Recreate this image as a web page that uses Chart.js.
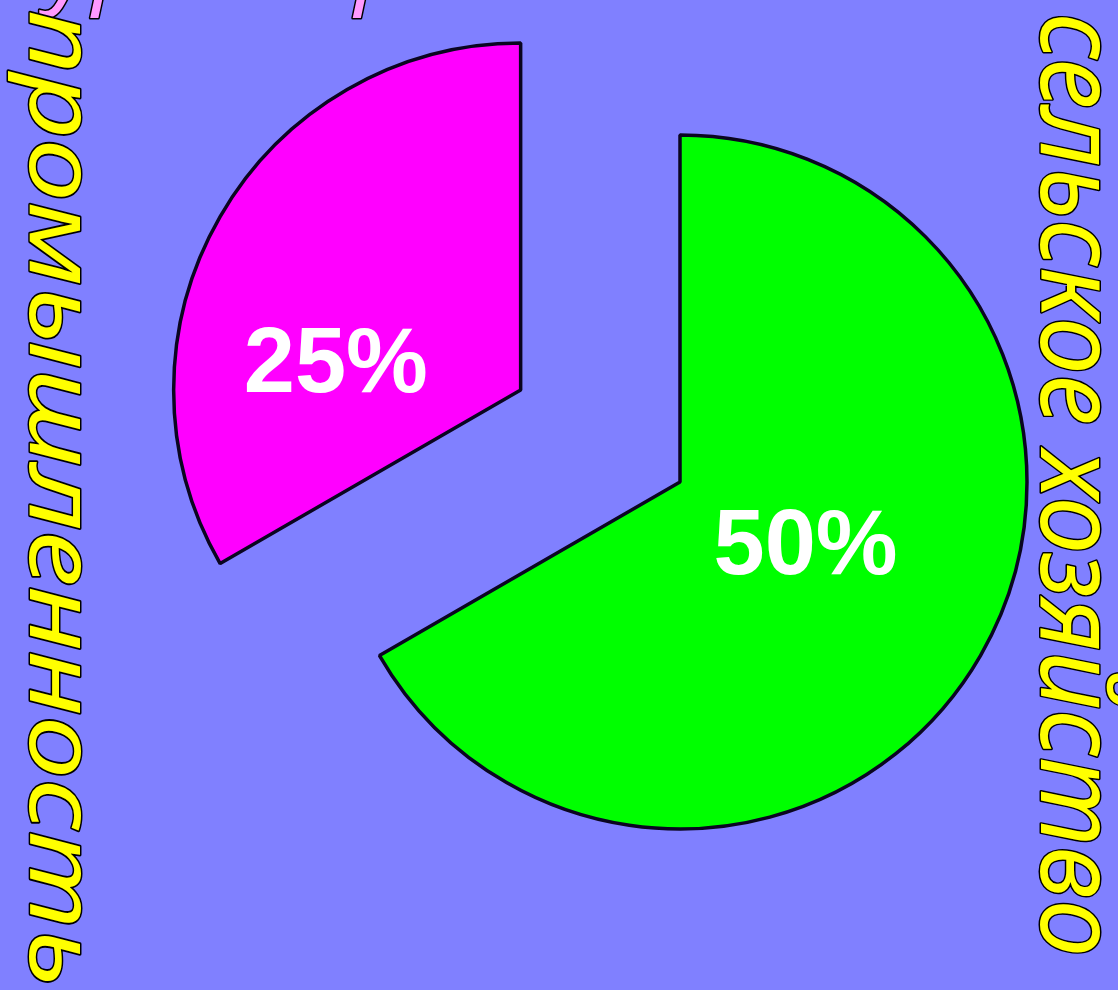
<!DOCTYPE html>
<html>
<head>
<meta charset="utf-8">
<script src="https://cdn.jsdelivr.net/npm/chart.js@4"></script>
<style>
  html, body { margin: 0; padding: 0; background: #8080ff; }
  canvas { display: block; }
</style>
</head>
<body>
<canvas id="otrasliChart" width="1118" height="990"></canvas>
<script>
const otrasli = ["сельское хозяйство", "промышленность"];
const doli = [50, 25];
const cveta = ["#00ff00", "#ff00ff"];
const zagolovok = "Структура отраслей";

// где внутри сектора стоит подпись: доля угла и доля радиуса
const mestoPodpisi = [
  { t: 0.48, k: 0.4 },
  { t: 0.33, k: 0.54 },
];

function sObvodkoj(ctx, text, x, y, fill, lw) {
  ctx.lineJoin = "round";
  ctx.lineWidth = lw;
  ctx.strokeStyle = "#000";
  ctx.strokeText(text, x, y);
  ctx.fillStyle = fill;
  ctx.fillText(text, x, y);
}

// надпись сверху вниз, повёрнута на 90° по часовой
function vertikal(ctx, text, bx, y0, y1, size) {
  ctx.save();
  ctx.font = `italic ${size}px "Noto Sans"`;
  ctx.textAlign = "left";
  ctx.textBaseline = "alphabetic";
  const w = ctx.measureText(text).width;
  ctx.translate(bx, y0);
  ctx.rotate(Math.PI / 2);
  ctx.scale((y1 - y0) / w, 1);
  sObvodkoj(ctx, text, 0, 0, "#ffff00", 3);
  ctx.restore();
}

const razmetka = {
  id: "razmetka",
  afterDatasetsUpdate(chart) {
    // при offset Chart.js раздувает радиус сектора (на offset/4 * fix)
    // и немного сужает его угол — возвращаем как было
    chart.getDatasetMeta(0).data.forEach((arc) => {
      const off = (arc.options.offset || 0) / 4;
      if (!off) return;
      const fix = 1 - Math.sin(Math.min(Math.PI, arc.circumference));
      const rOff = off * fix;
      const R = arc.outerRadius;
      arc.outerRadius = R - rOff;
      const d = rOff / Math.PI / R / 2;
      arc.startAngle -= d;
      arc.endAngle += d;
    });
  },
  beforeDatasetsDraw(chart) {
    const ctx = chart.ctx;
    ctx.save();
    ctx.font = 'italic 93px "Noto Sans"';
    ctx.textBaseline = "alphabetic";
    const x0 = 52 - ctx.measureText("Структ").width;
    sObvodkoj(ctx, zagolovok, x0, -4, "#ff99ff", 3);
    ctx.restore();

    vertikal(ctx, otrasli[1], 30, 10, 987, 94);
    vertikal(ctx, otrasli[0], 1041, 13, 957, 108);
  },
  afterDatasetsDraw(chart) {
    const ctx = chart.ctx;
    const meta = chart.getDatasetMeta(0);
    const R = meta.controller.outerRadius;
    ctx.save();
    ctx.font = 'bold 92px "Liberation Sans"';
    ctx.textAlign = "center";
    ctx.textBaseline = "alphabetic";
    ctx.fillStyle = "#ffffff";
    meta.data.forEach((arc, i) => {
      const mid = (arc.startAngle + arc.endAngle) / 2;
      const shift = (arc.options.offset || 0) / 4;
      const cx = arc.x + Math.cos(mid) * shift;
      const cy = arc.y + Math.sin(mid) * shift;
      const m = mestoPodpisi[i];
      const a = arc.startAngle + (arc.endAngle - arc.startAngle) * m.t;
      const px = cx + Math.cos(a) * R * m.k;
      const py = cy + Math.sin(a) * R * m.k;
      ctx.fillText(doli[i] + "%", px, py + 33);
    });
    ctx.restore();
  },
};

const ctx = document.getElementById("otrasliChart").getContext("2d");

new Chart(ctx, {
  type: "pie",
  data: {
    labels: otrasli,
    datasets: [
      {
        data: doli,
        backgroundColor: cveta,
        borderColor: "#0a0520",
        borderWidth: 3.5,
        offset: [0, 736],
      },
    ],
  },
  options: {
    responsive: false,
    animation: false,
    events: [],
    radius: 347,
    layout: { padding: { left: 242, right: 0, top: 0, bottom: 26 } },
    plugins: {
      legend: { display: false },
      tooltip: { enabled: false },
    },
  },
  plugins: [razmetka],
});
</script>
</body>
</html>
